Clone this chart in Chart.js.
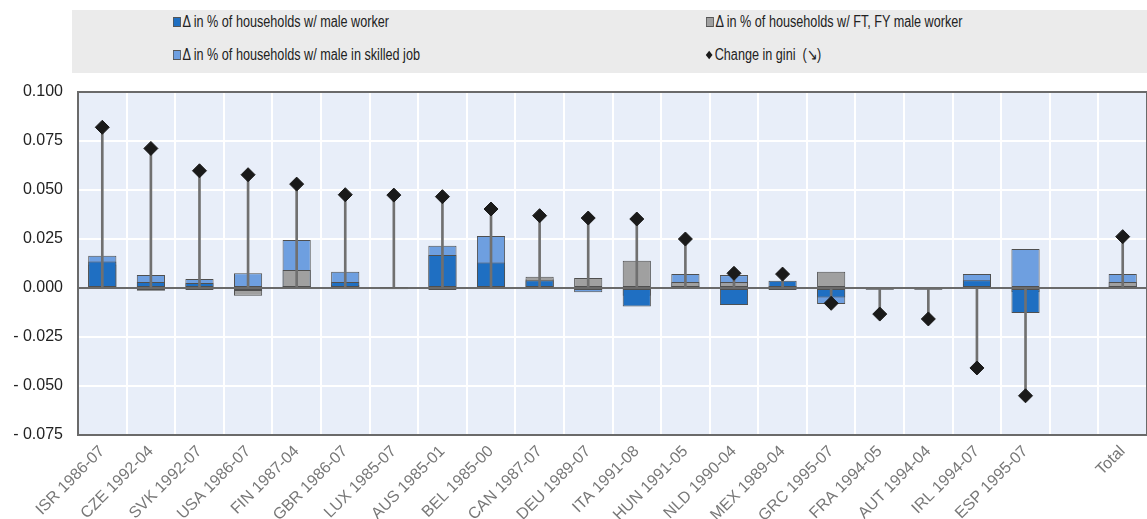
<!DOCTYPE html>
<html>
<head>
<meta charset="utf-8">
<script src="https://cdn.jsdelivr.net/npm/chart.js@4/dist/chart.umd.min.js"></script>
<style>
  html, body { margin: 0; padding: 0; background: #fff; overflow: hidden; width: 1147px; height: 519px; }
  #wrap { position: relative; width: 1147px; height: 519px; }
  #chart { position: absolute; left: 0; top: 0; }
  #legend {
    position: absolute; left: 72px; top: 10px; width: 1075px; height: 63px;
    background: #ebebeb; font-family: "Liberation Sans", Arial, sans-serif;
    font-size: 16px; color: #222;
  }
  .item { position: absolute; white-space: nowrap; line-height: 16px; transform: scaleX(0.79); transform-origin: left center; }
  .sw { display: inline-block; width: 8px; height: 8px; margin-right: 2px; vertical-align: 0px; border: 1px solid #555; }
  .dia { display: inline-block; width: 6px; height: 6px; background: #1a1a1a; transform: rotate(45deg); margin: 0 4px 1px 1px; vertical-align: 1px; }
</style>
</head>
<body>
<div id="wrap">
  <canvas id="chart" width="1155" height="519"></canvas>
  <div id="legend">
    <div class="item" style="left:101px; top:4px;"><span class="sw" style="background:#1f6fc2"></span>&Delta; in % of households w/ male worker</div>
    <div class="item" style="left:634px; top:4px;"><span class="sw" style="background:#a0a0a0"></span>&Delta; in % of households w/ FT, FY male worker</div>
    <div class="item" style="left:101px; top:37px;"><span class="sw" style="background:#6e9fe0"></span>&Delta; in % of households w/ male in skilled job</div>
    <div class="item" style="left:634px; top:37px;"><span class="dia"></span>Change in gini&nbsp; (&#8600;)</div>
  </div>
</div>
<script>
const countries = ['ISR 1986-07', 'CZE 1992-04', 'SVK 1992-07', 'USA 1986-07', 'FIN 1987-04', 'GBR 1986-07',
  'LUX 1985-07', 'AUS 1985-01', 'BEL 1985-00', 'CAN 1987-07', 'DEU 1989-07', 'ITA 1991-08', 'HUN 1991-05',
  'NLD 1990-04', 'MEX 1989-04', 'GRC 1995-07', 'FRA 1994-05', 'AUT 1994-04', 'IRL 1994-07', 'ESP 1995-07', '', 'Total'];

const maleWorker = [0.0135, 0.003, 0.0025, -0.0015, 0.001, 0.003, -0.0006, 0.0168, 0.013, 0.004, -0.001, -0.0095, 0.001,
  -0.0087, 0.0037, -0.0048, -0.0009, -0.0009, 0.004, -0.0128, null, 0.001];
const ftfyWorker = [0.012, -0.0014, -0.001, -0.0039, 0.0092, 0.0015, 0.0, -0.001, 0.011, 0.0058, 0.0051, 0.0139, 0.003,
  0.003, 0.001, 0.0083, 0.0, 0.0, 0.002, -0.002, null, 0.003];
const skilledJob = [0.0165, 0.0066, 0.0046, 0.0075, 0.0245, 0.0083, 0.0003, 0.0216, 0.0265, 0.0045, -0.0022, -0.004, 0.0071,
  0.0066, -0.001, -0.0082, -0.0008, -0.0008, 0.0071, 0.0199, null, 0.0071];
const giniChange = [0.082, 0.0712, 0.0598, 0.0578, 0.053, 0.0476, 0.0474, 0.0466, 0.0403, 0.0369, 0.0357, 0.0352, 0.025,
  0.0075, 0.0071, -0.0078, -0.0133, -0.0158, -0.0408, -0.055, null, 0.0262];

const yTicks = [-0.075, -0.05, -0.025, 0, 0.025, 0.05, 0.075, 0.1];

const barCommon = {
  type: 'bar',
  grouped: false,
  borderColor: '#4f4f4f',
  borderWidth: 1,
  borderSkipped: false,
  barPercentage: 0.58,
  categoryPercentage: 1.0
};

const plotBg = {
  id: 'plotBg',
  beforeDraw(chart) {
    const a = chart.chartArea, c = chart.ctx;
    c.save();
    c.fillStyle = '#e8eef9';
    c.fillRect(a.left, a.top, a.right - a.left, a.bottom - a.top);
    c.restore();
  },
  beforeDatasetsDraw(chart) {
    const a = chart.chartArea, c = chart.ctx;
    c.save();
    c.strokeStyle = '#6a6a6a';
    c.lineWidth = 2;
    c.strokeRect(a.left, a.top, a.right - a.left, a.bottom - a.top);
    c.restore();
  }
};

new Chart(document.getElementById('chart').getContext('2d'), {
  data: {
    labels: countries,
    datasets: [
      {
        type: 'line',
        label: 'Change in gini',
        data: giniChange,
        showLine: false,
        pointStyle: 'rectRot',
        pointRadius: 7,
        pointBackgroundColor: '#1a1a1a',
        pointBorderColor: '#1a1a1a',
        order: 0
      },
      {
        type: 'bar',
        label: 'stem',
        data: giniChange.map(g => g === null ? null : [0, g]),
        grouped: false,
        barThickness: 2,
        backgroundColor: '#707070',
        borderWidth: 0,
        order: 1
      },
      Object.assign({}, barCommon, { label: 'male worker', data: maleWorker, backgroundColor: '#1f6fc2', order: 2 }),
      Object.assign({}, barCommon, { label: 'FT, FY male worker', data: ftfyWorker, backgroundColor: '#a0a0a0', order: 3 }),
      Object.assign({}, barCommon, { label: 'male in skilled job', data: skilledJob, backgroundColor: '#6e9fe0', order: 4 })
    ]
  },
  options: {
    responsive: false,
    animation: false,
    layout: { padding: { top: 92, left: 0, right: 0, bottom: 0 } },
    plugins: { legend: { display: false }, tooltip: { enabled: false } },
    scales: {
      x: {
        offset: true,
        grid: { offset: true, color: '#ffffff', lineWidth: 2, drawTicks: false },
        border: { color: '#6a6a6a', width: 2 },
        ticks: {
          autoSkip: false, minRotation: 45, maxRotation: 45, padding: 7,
          color: '#777', font: { family: 'Liberation Sans, Arial, sans-serif', size: 16 }
        },
        afterFit(s) { s.height = 84; }
      },
      y: {
        min: yTicks[0],
        max: yTicks[yTicks.length - 1],
        afterBuildTicks(s) { s.ticks = yTicks.map(v => ({ value: v })); },
        grid: {
          drawTicks: false,
          color: c => (c.tick && Math.abs(c.tick.value) < 1e-9) ? '#6a6a6a' : '#ffffff',
          lineWidth: 2
        },
        border: { color: '#6a6a6a', width: 2 },
        ticks: {
          padding: 15,
          color: '#222',
          font: { family: 'Liberation Sans, Arial, sans-serif', size: 16 },
          callback: v => (v < -1e-9 ? '- ' + Math.abs(v).toFixed(3) : Math.abs(v).toFixed(3))
        },
        afterFit(s) { s.width = 78; }
      }
    }
  },
  plugins: [plotBg]
});
</script>
</body>
</html>
